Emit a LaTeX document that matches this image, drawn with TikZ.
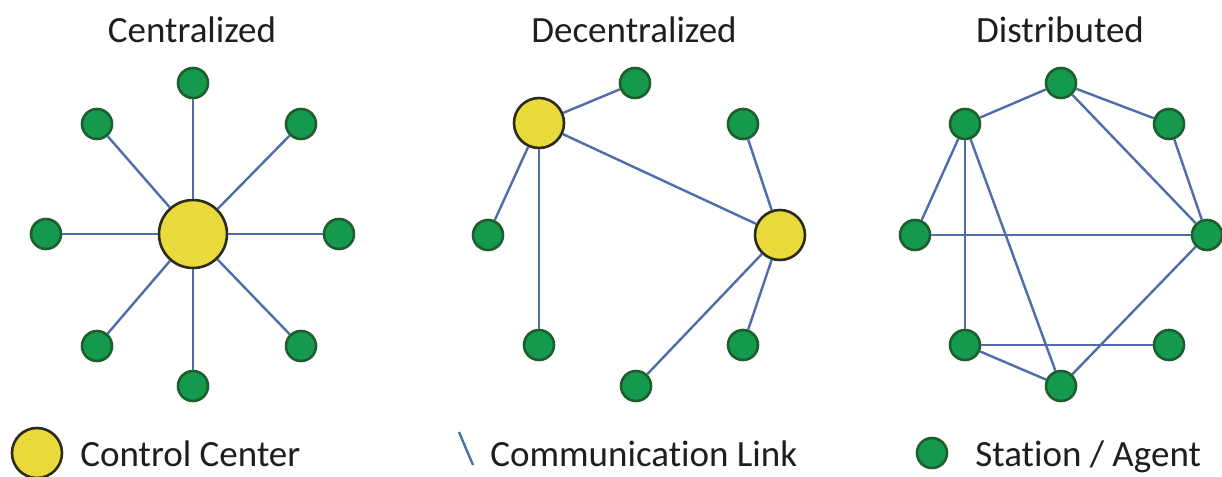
\documentclass[tikz,border=0pt]{standalone}
\usepackage{fontspec}
\setmainfont[Ligatures=NoCommon]{Carlito}
\begin{document}
\begin{tikzpicture}[x=0.5pt,y=-0.5pt,
  station/.style={circle,draw=stationborder,fill=stationfill,line width=1.3pt,minimum size=15pt,inner sep=0pt},
  hub/.style={circle,draw=hubborder,fill=hubfill,line width=1.3pt,minimum size=25pt,inner sep=0pt},
  bighub/.style={hub,minimum size=34pt},
  link/.style={draw=linkcol,line width=1.2pt},
  lbl/.style={font=\fontsize{18.5}{22}\selectfont,text=textcol,inner sep=0pt}]
\definecolor{stationfill}{HTML}{14994F}
\definecolor{stationborder}{HTML}{1D5E2C}
\definecolor{hubfill}{HTML}{E9D93A}
\definecolor{hubborder}{HTML}{2B2B1A}
\definecolor{linkcol}{HTML}{4E6DAA}
\definecolor{textcol}{HTML}{1E1E1E}
\useasboundingbox (0,0) rectangle (1222,477);
\fill[white] (0,0) rectangle (1222,477);

% titles
\node[lbl,anchor=base] (t1) at (192,42) {Centralized};
\node[lbl,anchor=base] (t2) at (634,42) {Decentralized};
\node[lbl,anchor=base] (t3) at (1060,42) {Distributed};

% Centralized
\node[bighub] (c0) at (193,234) {};
\node[station] (c1) at (193,83) {};
\node[station] (c2) at (97,124) {};
\node[station] (c3) at (301,124) {};
\node[station] (c4) at (46,234) {};
\node[station] (c5) at (339,234) {};
\node[station] (c6) at (97,346) {};
\node[station] (c7) at (301,346) {};
\node[station] (c8) at (193,386) {};
\foreach \n in {c1,c2,c3,c4,c5,c6,c7,c8} \draw[link] (c0) -- (\n);

% Decentralized
\node[hub] (da) at (539,123) {};
\node[hub] (db) at (780,235) {};
\node[station] (d1) at (635,83) {};
\node[station] (d2) at (743,124) {};
\node[station] (d3) at (488,235) {};
\node[station] (d4) at (539,345) {};
\node[station] (d5) at (743,345) {};
\node[station] (d6) at (636,386) {};
\draw[link] (da) -- (d1);
\draw[link] (da) -- (d3);
\draw[link] (da) -- (d4);
\draw[link] (da) -- (db);
\draw[link] (db) -- (d2);
\draw[link] (db) -- (d5);
\draw[link] (db) -- (d6);

% Distributed
\node[station] (n1) at (1061,83) {};
\node[station] (n2) at (965,124) {};
\node[station] (n3) at (1169,124) {};
\node[station] (n4) at (915,235) {};
\node[station] (n5) at (1207,235) {};
\node[station] (n6) at (965,345) {};
\node[station] (n7) at (1169,345) {};
\node[station] (n8) at (1061,386) {};
\draw[link] (n2) -- (n1);
\draw[link] (n1) -- (n3);
\draw[link] (n1) -- (n5);
\draw[link] (n3) -- (n5);
\draw[link] (n2) -- (n4);
\draw[link] (n2) -- (n6);
\draw[link] (n2) -- (n8);
\draw[link] (n4) -- (n5);
\draw[link] (n6) -- (n7);
\draw[link] (n6) -- (n8);
\draw[link] (n8) -- (n5);

% legend
\node[hub] (lg1) at (37,453) {};
\node[lbl,anchor=base west] (lt1) at (80,466) {Control Center};
\coordinate (la) at (459,432);
\coordinate (lb) at (473,465);
\draw[link] (la) -- (lb);
\node[lbl,anchor=base west] (lt2) at (490,466) {Communication Link};
\node[station] (lg3) at (932,453) {};
\node[lbl,anchor=base west] (lt3) at (975,466) {Station / Agent};
\end{tikzpicture}
\end{document}
